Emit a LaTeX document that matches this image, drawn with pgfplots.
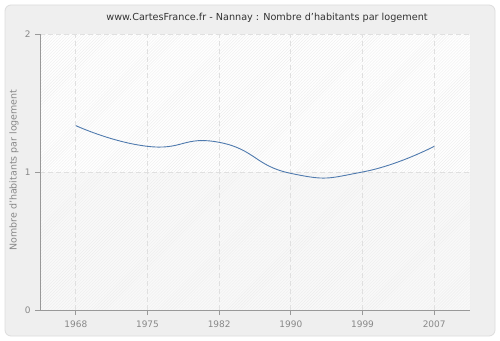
\documentclass[border=0pt]{standalone}
\usepackage{pgfplots}
\pgfplotsset{compat=1.18}
\usepackage{fontspec}
\setmainfont{DejaVu Sans}
\usetikzlibrary{patterns}
\definecolor{framebg}{HTML}{EFEFEF}
\definecolor{frameln}{HTML}{DDDDDD}
\definecolor{axisln}{HTML}{999999}
\definecolor{ticklbl}{HTML}{888888}
\definecolor{gridc}{HTML}{E0E0E0}
\definecolor{hatch}{HTML}{EEEEEE}
\definecolor{lowbg}{HTML}{F9F9F9}
\definecolor{linec}{HTML}{4F7AAE}
\definecolor{titlec}{HTML}{333333}
\begin{document}
\begin{tikzpicture}[x=1bp,y=1bp]
\path[use as bounding box] (0,0) rectangle (500,340);
\fill[white] (0,0) rectangle (500,340);
\draw[frameln, fill=framebg, rounded corners=6bp, line width=0.8bp] (5,4) rectangle (495,335);
\fill[white] (40,168) rectangle (470,306);
\fill[lowbg] (40,30) rectangle (470,168);
\fill[pattern=north east lines, pattern color=hatch] (40,30) rectangle (470,306);
\node[text=titlec, font=\fontsize{9.7}{12}\selectfont] at (267,322) {www.CartesFrance.fr - Nannay : Nombre d'habitants par logement};
\node[text=ticklbl, rotate=90, font=\fontsize{9.5}{11}\selectfont] at (14,170) {Nombre d'habitants par logement};
\begin{axis}[
  at={(40bp,30bp)}, anchor=south west,
  scale only axis, width=430bp, height=276bp,
  xmin=-0.5, xmax=5.5, ymin=0, ymax=2,
  xtick={0,1,2,3,4,5},
  xticklabels={1968,1975,1982,1990,1999,2007},
  ytick={0,1,2},
  /pgf/number format/assume math mode=true,
  tick label style={text=ticklbl, font=\fontsize{9}{11}\selectfont},
  axis x line*=bottom, axis y line*=left,
  axis line style={axisln, line width=0.8bp, -},
  tick style={axisln, line width=0.8bp},
  tick align=outside, major tick length=5bp,
  xmajorgrids, ymajorgrids,
  grid style={gridc, dash pattern=on 5bp off 3bp, line width=0.8bp},
  yticklabel style={xshift=-1bp},
  xticklabel style={yshift=-2bp},
]
\addplot[linec, line width=0.9bp, smooth, tension=0.9] coordinates {
(0,1.336) (1,1.186) (2,1.215) (3,0.99) (4,1.0) (5,1.186)
};
\end{axis}
\end{tikzpicture}
\end{document}
